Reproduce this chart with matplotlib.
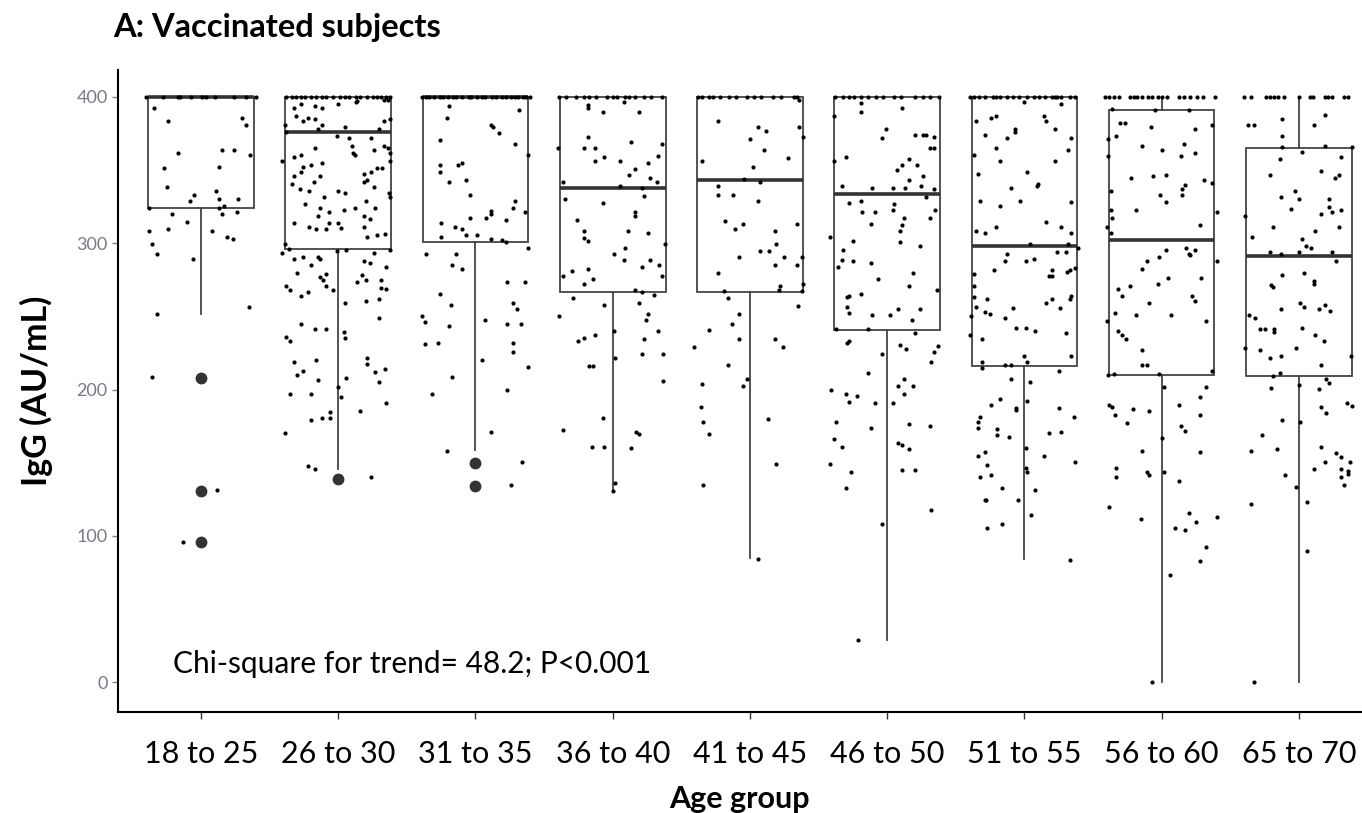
import matplotlib
matplotlib.use("Agg")
import matplotlib.pyplot as plt

groups = ["18 to 25", "26 to 30", "31 to 35", "36 to 40", "41 to 45",
          "46 to 50", "51 to 55", "56 to 60", "65 to 70"]

# box statistics (IgG, AU/mL)
whis_lo = [252, 146, 159, 131, 85, 29, 84, 0, 0]
q1 = [324, 296, 301, 267, 267, 241, 216, 210, 209]
med = [400, 376, 400, 338, 343, 334, 298, 302, 291]
q3 = [400, 400, 400, 400, 400, 400, 400, 391, 365]
whis_hi = [400, 400, 400, 400, 400, 400, 400, 400, 400]
outliers = [[208, 131, 96], [139], [150, 134], [], [], [], [], [], []]

# jittered subjects: (horizontal jitter, IgG)
pts_18_25 = [(-0.40, 400), (-0.28, 400), (-0.17, 400), (-0.15, 400), (-0.07, 400), (0.01, 400),
             (0.04, 400), (0.10, 400), (0.24, 400), (0.33, 400), (0.40, 400),
             (-0.34, 392.5), (-0.24, 383.4), (0.30, 385.9), (0.33, 380.9), (-0.17, 361.5), (0.15, 364.0),
             (0.24, 364.0), (0.36, 360.1), (-0.27, 351.2), (0.13, 352.4), (-0.25, 338.2), (-0.05, 333.0),
             (-0.08, 329.1), (0.11, 335.5), (0.13, 330.3), (0.27, 330.5), (0.17, 325.5), (0.13, 323.9),
             (-0.38, 323.9), (-0.21, 320.0), (0.15, 320.0), (0.26, 321.1), (-0.10, 314.8), (-0.38, 308.4),
             (-0.24, 309.7), (0.08, 308.4), (0.19, 304.3), (0.23, 303.1), (-0.36, 299.3), (-0.32, 292.9),
             (-0.06, 289.0), (0.35, 256.6), (-0.32, 251.4), (-0.36, 208.5), (0.12, 131.3), (-0.13, 95.9)]

pts_26_30 = [(-0.38, 400), (-0.34, 400), (-0.31, 400), (-0.27, 400), (-0.24, 400), (-0.20, 400),
             (-0.16, 400), (-0.12, 400), (-0.09, 400), (-0.04, 400), (0.01, 400), (0.05, 400),
             (0.08, 400), (0.13, 400), (0.16, 400), (0.21, 400), (0.25, 400), (0.28, 400),
             (0.31, 400), (0.35, 400), (0.38, 400), (0.14, 397), (0.33, 398), (0.36, 398),
             (-0.32, 392.5), (-0.27, 395.0), (-0.17, 393.8), (-0.12, 392.5), (0.00, 395.2), (0.13, 396.8),
             (-0.31, 387.2), (-0.26, 383.4), (-0.22, 385.9), (-0.17, 384.7), (-0.12, 380.9), (0.33, 383.4),
             (0.38, 384.7), (-0.39, 380.9), (-0.15, 378.1), (0.05, 379.5), (0.30, 378.1), (-0.38, 376.3),
             (-0.01, 373.3), (0.08, 371.7), (0.24, 371.7), (-0.17, 365.4), (0.10, 366.7), (0.26, 364.0),
             (0.33, 366.7), (0.36, 365.4), (0.11, 361.5), (0.12, 360.3), (0.38, 361.5), (-0.32, 359.0),
             (-0.27, 360.1), (-0.41, 356.2), (-0.26, 352.4), (-0.20, 353.7), (-0.12, 355.1), (0.38, 356.2),
             (0.28, 351.2), (0.24, 348.5), (0.32, 351.2), (-0.27, 348.5), (-0.32, 346.0), (-0.13, 346.0),
             (0.19, 347.1), (-0.18, 342.1), (-0.34, 340.7), (0.19, 342.1), (0.21, 343.2), (-0.28, 336.9),
             (-0.21, 335.5), (0.00, 335.5), (0.05, 334.4), (0.26, 338.2), (0.37, 334.4), (-0.10, 331.6),
             (0.38, 331.6), (-0.24, 326.6), (0.20, 329.1), (-0.13, 323.9), (-0.07, 321.4), (-0.15, 318.9),
             (0.04, 322.7), (0.12, 323.9), (0.27, 323.9), (0.19, 318.9), (0.23, 316.4), (-0.32, 313.6),
             (-0.21, 311.1), (-0.16, 309.7), (-0.09, 309.7), (-0.07, 313.6), (0.00, 313.6), (0.02, 310.2),
             (0.19, 311.1), (0.21, 304.5), (0.28, 305.6), (0.34, 306.1), (-0.39, 299.3), (-0.41, 293.1),
             (-0.36, 296.1), (-0.01, 294.7), (0.06, 295.6), (0.38, 295.4), (-0.32, 289.2), (-0.26, 290.4),
             (-0.20, 285.1), (-0.15, 290.4), (-0.13, 289.2), (0.19, 287.9), (0.23, 286.3), (0.35, 284.0),
             (0.26, 293.1), (-0.30, 279.9), (-0.13, 277.2), (-0.09, 278.8), (-0.11, 274.9), (0.17, 278.3),
             (0.20, 274.9), (0.14, 273.3), (0.31, 274.9), (0.35, 268.7), (0.31, 269.6), (-0.38, 271.0),
             (-0.35, 268.3), (-0.27, 264.2), (-0.22, 266.9), (-0.09, 271.0), (-0.04, 268.3), (0.05, 258.9),
             (0.20, 260.5), (0.30, 261.7), (0.30, 248.7), (-0.27, 245.0), (-0.17, 241.1), (-0.09, 241.1),
             (0.04, 239.5), (0.05, 235.4), (-0.38, 236.1), (-0.35, 233.2), (-0.32, 219.0), (-0.16, 220.2),
             (0.21, 221.3), (0.21, 217.7), (0.34, 214.0), (0.27, 211.8), (-0.26, 212.7), (-0.30, 209.9),
             (-0.15, 206.3), (0.06, 207.6), (0.30, 204.9), (0.00, 201.9), (-0.35, 197.2), (-0.20, 197.2),
             (0.02, 194.9), (0.35, 191.0), (-0.06, 184.4), (-0.06, 180.3), (-0.12, 180.3), (-0.20, 178.9),
             (0.16, 185.3), (-0.39, 170.0), (-0.22, 147.9), (-0.17, 145.4), (0.24, 140.2)]

pts_31_35 = [(-0.39, 400), (-0.36, 400), (-0.34, 400), (-0.30, 400), (-0.26, 400), (-0.24, 400),
             (-0.20, 400), (-0.16, 400), (-0.14, 400), (-0.10, 400), (-0.05, 400), (-0.03, 400),
             (0.01, 400), (0.05, 400), (0.07, 400), (0.12, 400), (0.15, 400), (0.19, 400),
             (0.22, 400), (0.26, 400), (0.29, 400), (0.31, 400), (0.35, 400), (0.37, 400), (0.40, 400),
             (-0.19, 393.8), (0.32, 391.1), (-0.21, 385.9), (0.11, 380.9), (0.13, 379.5), (0.17, 375.6),
             (-0.26, 370.6), (0.29, 367.9), (0.38, 360.1), (-0.26, 353.5), (-0.13, 353.5), (-0.10, 354.9),
             (-0.26, 348.5), (-0.19, 341.9), (-0.07, 343.2), (-0.04, 333.0), (0.29, 329.1), (0.27, 323.9),
             (0.36, 321.4), (0.11, 322.1), (0.11, 320.0), (0.08, 317.5), (-0.04, 317.5), (0.22, 316.1),
             (-0.25, 313.6), (-0.15, 311.1), (-0.10, 309.7), (-0.07, 305.6), (-0.25, 304.5), (0.01, 305.6),
             (0.11, 303.1), (0.19, 302.2), (0.22, 300.6), (0.38, 296.5), (-0.36, 292.9), (-0.14, 292.9),
             (-0.17, 285.1), (-0.10, 282.4), (0.23, 273.3), (0.36, 273.3), (-0.26, 265.5), (-0.18, 257.8),
             (0.27, 258.9), (0.30, 255.0), (-0.39, 250.3), (-0.37, 246.2), (-0.19, 243.7), (0.07, 247.5),
             (0.23, 245.0), (0.33, 245.0), (-0.37, 230.9), (-0.27, 232.0), (0.27, 232.0), (0.27, 225.4),
             (0.05, 220.2), (0.38, 215.2), (-0.17, 208.6), (-0.32, 197.2), (0.23, 199.7), (0.11, 171.2),
             (-0.21, 158.2), (0.34, 150.4), (0.26, 134.9)]

pts_36_40 = [(-0.39, 400), (-0.34, 400), (-0.27, 400), (-0.21, 400), (-0.17, 400), (-0.12, 400),
             (-0.04, 400), (0.00, 400), (0.03, 400), (0.09, 400), (0.12, 400), (0.16, 400),
             (0.23, 400), (0.28, 400), (0.36, 400),
             (-0.18, 394.5), (-0.18, 392.2), (-0.07, 389.8), (0.08, 396.4), (0.19, 389.8), (-0.18, 372.9),
             (0.13, 369.1), (-0.40, 365.1), (-0.21, 365.1), (-0.13, 365.1), (0.36, 367.7), (0.33, 359.9),
             (-0.06, 358.8), (-0.13, 356.2), (0.05, 356.2), (0.26, 355.0), (0.16, 351.0), (0.12, 347.0),
             (0.27, 344.6), (0.32, 342.0), (-0.36, 342.0), (0.05, 339.4), (0.21, 338.0), (0.23, 332.6),
             (-0.35, 330.5), (-0.07, 327.7), (0.16, 321.1), (0.16, 318.7), (-0.26, 316.1), (-0.21, 308.1),
             (-0.21, 303.4), (-0.18, 301.8), (0.11, 308.1), (0.26, 306.9), (0.38, 299.4), (0.09, 296.8),
             (0.01, 292.8), (0.08, 288.8), (0.27, 288.8), (0.21, 283.9), (0.34, 285.3), (-0.30, 281.1),
             (-0.18, 282.2), (-0.36, 277.3), (0.36, 277.3), (-0.14, 275.9), (-0.21, 272.1), (0.16, 268.1),
             (0.21, 266.9), (0.30, 264.6), (-0.29, 262.9), (-0.06, 258.0), (0.19, 259.2), (-0.39, 250.0),
             (0.26, 251.6), (0.24, 247.4), (0.01, 239.8), (0.33, 239.8), (-0.25, 233.3), (-0.21, 235.6),
             (-0.13, 237.0), (0.23, 234.4), (0.02, 221.5), (0.21, 224.1), (0.37, 224.1), (-0.17, 216.3),
             (-0.14, 216.3), (0.37, 206.2), (-0.07, 180.3), (-0.36, 172.7), (0.17, 171.3), (0.19, 169.9),
             (-0.15, 161.0), (-0.06, 161.0), (0.13, 159.8), (0.02, 136.2), (0.00, 130.8)]

pts_41_45 = [(-0.38, 400), (-0.35, 400), (-0.30, 400), (-0.27, 400), (-0.22, 400), (-0.15, 400),
             (-0.10, 400), (-0.02, 400), (0.03, 400), (0.08, 400), (0.17, 400), (0.23, 400),
             (0.32, 400), (0.34, 400), (0.36, 398),
             (-0.23, 383.8), (0.06, 379.4), (0.12, 376.9), (0.00, 371.6), (0.36, 379.4), (0.39, 372.8),
             (0.10, 363.8), (-0.35, 356.4), (0.28, 358.6), (0.02, 352.0), (-0.04, 344.2), (0.07, 341.8),
             (-0.23, 339.3), (-0.23, 333.0), (-0.12, 333.0), (0.06, 329.1), (-0.18, 314.9), (-0.05, 313.4),
             (-0.11, 309.5), (0.18, 308.6), (0.34, 313.4), (0.19, 299.3), (0.07, 294.4), (0.14, 294.4),
             (-0.08, 290.3), (0.25, 290.3), (0.38, 290.3), (0.18, 284.9), (0.34, 284.9), (-0.23, 280.0),
             (0.39, 272.2), (0.22, 270.9), (0.21, 267.8), (-0.19, 267.3), (0.38, 267.1), (-0.16, 262.9),
             (0.35, 256.8), (-0.08, 251.4), (-0.13, 245.1), (-0.30, 240.9), (-0.08, 234.3), (0.18, 234.3),
             (-0.41, 229.4), (0.24, 229.4), (-0.16, 216.5), (-0.02, 207.5), (-0.05, 202.3), (-0.35, 203.6),
             (-0.36, 187.9), (0.13, 180.1), (-0.34, 177.7), (-0.30, 169.9), (0.19, 149.4), (-0.34, 134.7),
             (0.06, 84.4)]

pts_46_50 = [(-0.38, 400), (-0.32, 400), (-0.28, 400), (-0.24, 400), (-0.19, 400), (-0.14, 400),
             (-0.08, 400), (-0.03, 400), (0.05, 400), (0.10, 400), (0.20, 400), (0.26, 400),
             (0.31, 400), (0.38, 400),
             (-0.19, 395.6), (-0.19, 389.9), (0.11, 392.5), (-0.39, 387.3), (-0.01, 378.1), (-0.04, 372.1),
             (0.20, 374.2), (0.26, 374.2), (0.28, 374.2), (0.34, 372.9), (0.31, 365.0), (0.34, 365.0),
             (-0.30, 359.0), (-0.39, 356.4), (0.16, 357.7), (0.11, 353.8), (0.22, 353.8), (0.07, 349.9),
             (0.26, 345.9), (0.16, 343.3), (-0.33, 339.4), (-0.11, 338.1), (0.04, 338.1), (0.13, 338.1),
             (0.25, 339.4), (0.34, 336.8), (0.28, 331.5), (-0.28, 327.6), (-0.19, 329.2), (0.05, 326.6),
             (0.35, 322.6), (-0.18, 321.3), (-0.09, 321.3), (0.04, 322.6), (0.12, 317.4), (0.31, 317.4),
             (-0.12, 313.5), (0.11, 312.2), (0.09, 308.2), (-0.42, 304.3), (-0.25, 301.7), (0.09, 300.7),
             (0.24, 298.0), (-0.32, 295.2), (-0.33, 288.9), (-0.25, 287.6), (-0.12, 286.3), (-0.36, 283.6),
             (0.19, 279.7), (-0.07, 275.8), (0.16, 270.8), (0.36, 268.2), (-0.28, 264.3), (-0.29, 263.0),
             (-0.19, 265.6), (-0.29, 256.4), (-0.28, 252.5), (-0.11, 251.2), (0.02, 251.2), (0.08, 255.1),
             (0.24, 255.1), (0.18, 247.3), (-0.37, 241.3), (-0.14, 241.3), (0.20, 238.6), (-0.28, 232.9),
             (-0.29, 232.1), (-0.04, 224.3), (0.09, 230.8), (0.14, 227.7), (0.37, 229.5), (0.34, 225.6),
             (0.32, 219.0), (-0.14, 211.4), (0.12, 207.5), (0.08, 202.3), (0.19, 202.3), (-0.41, 199.7),
             (-0.30, 197.0), (-0.22, 195.7), (-0.28, 191.8), (-0.09, 190.8), (0.04, 190.8), (0.12, 197.0),
             (-0.37, 177.7), (-0.12, 173.8), (0.16, 176.4), (0.31, 175.1), (-0.39, 165.9), (-0.33, 160.9),
             (0.08, 163.3), (0.11, 162.2), (0.16, 159.6), (-0.42, 149.2), (-0.26, 143.9), (0.11, 145.2),
             (0.20, 145.2), (-0.30, 132.4), (0.32, 118.0), (-0.04, 107.8), (-0.21, 28.8)]

pts_51_55 = [(-0.40, 400), (-0.37, 400), (-0.33, 400), (-0.29, 400), (-0.23, 400), (-0.21, 400),
             (-0.18, 400), (-0.13, 400), (-0.08, 400), (-0.04, 400), (0.02, 400), (0.07, 400),
             (0.11, 400), (0.15, 400), (0.20, 400), (0.22, 400), (0.24, 400), (0.27, 400),
             (0.33, 400), (0.37, 400),
             (0.00, 396.3), (0.27, 395.0), (-0.35, 383.6), (-0.24, 385.9), (-0.21, 387.2), (0.14, 387.2),
             (0.16, 383.6), (-0.07, 378.1), (-0.07, 376.3), (0.22, 378.1), (-0.29, 374.2), (-0.13, 371.7),
             (0.34, 371.7), (-0.21, 365.4), (0.32, 364.0), (-0.37, 360.1), (-0.18, 356.2), (0.22, 356.2),
             (-0.34, 347.1), (0.02, 348.5), (0.10, 340.7), (0.09, 339.4), (-0.10, 338.0), (-0.32, 329.1),
             (-0.03, 329.1), (0.34, 328.0), (-0.18, 325.2), (0.16, 314.8), (-0.35, 308.6), (-0.29, 307.2),
             (-0.21, 311.1), (0.27, 311.1), (0.34, 307.2), (0.04, 299.3), (0.32, 299.3), (0.39, 297.0),
             (0.24, 294.2), (0.30, 294.2), (-0.13, 292.9), (-0.14, 287.9), (0.01, 287.9), (0.07, 289.2),
             (-0.22, 281.5), (0.20, 281.5), (0.18, 277.4), (0.20, 277.4), (0.31, 280.1), (0.33, 281.5),
             (0.37, 282.9), (-0.37, 278.8), (-0.37, 271.0), (-0.37, 263.5), (-0.27, 261.9), (0.34, 264.2),
             (0.33, 261.9), (0.20, 261.9), (0.16, 259.2), (-0.35, 256.6), (-0.08, 255.5), (0.26, 255.5),
             (-0.39, 250.5), (-0.29, 252.8), (-0.25, 251.4), (-0.14, 248.7), (-0.06, 242.3), (0.01, 242.3),
             (0.08, 240.0), (0.30, 238.4), (-0.40, 237.3), (-0.31, 234.5), (0.00, 223.1), (0.02, 219.0),
             (0.34, 223.1), (-0.31, 219.0), (-0.31, 214.9), (-0.14, 216.8), (-0.10, 216.8), (0.25, 212.7),
             (-0.10, 207.2), (0.04, 204.9), (0.02, 192.2), (-0.18, 193.5), (-0.24, 189.4), (-0.06, 187.6),
             (-0.06, 185.8), (0.25, 187.1), (0.36, 181.4), (-0.32, 181.4), (-0.34, 177.6), (-0.34, 173.9),
             (-0.20, 172.8), (-0.20, 168.9), (-0.11, 167.5), (0.18, 170.0), (0.27, 171.2), (0.01, 159.8),
             (-0.34, 154.5), (-0.29, 157.1), (-0.27, 148.4), (0.14, 154.5), (0.37, 150.7), (0.01, 146.1),
             (0.02, 143.8), (-0.32, 140.2), (-0.24, 141.5), (-0.16, 132.4), (0.08, 131.1), (-0.29, 124.7),
             (-0.28, 124.7), (-0.05, 124.7), (0.05, 114.2), (-0.27, 105.1), (-0.16, 107.8), (0.33, 83.4)]

pts_56_60 = [(-0.41, 400), (-0.38, 400), (-0.35, 400), (-0.31, 400), (-0.23, 400), (-0.20, 400),
             (-0.18, 400), (-0.14, 400), (-0.10, 400), (-0.07, 400), (-0.03, 400), (0.00, 400),
             (0.04, 400), (0.13, 400), (0.16, 400), (0.21, 400), (0.26, 400), (0.30, 400), (0.39, 400),
             (-0.36, 391.7), (-0.05, 390.9), (0.20, 390.9), (-0.30, 382.1), (-0.27, 382.1), (0.37, 381.1),
             (-0.08, 379.5), (0.24, 378.1), (-0.33, 373.1), (-0.39, 371.5), (-0.14, 366.4), (0.16, 367.8),
             (0.00, 364.0), (0.14, 360.0), (0.24, 361.4), (-0.39, 360.0), (-0.22, 344.3), (-0.06, 345.7),
             (0.03, 347.0), (0.31, 343.5), (0.37, 340.9), (0.17, 339.6), (0.15, 336.9), (-0.37, 335.8),
             (-0.01, 332.9), (0.15, 332.9), (0.03, 327.9), (-0.19, 322.5), (-0.37, 322.5), (0.40, 321.5),
             (-0.36, 317.2), (-0.40, 311.1), (-0.37, 307.1), (0.28, 312.4), (0.03, 295.1), (0.18, 297.0),
             (0.20, 292.5), (0.21, 291.7), (0.24, 295.1), (-0.02, 290.3), (-0.11, 287.7), (0.40, 287.7),
             (-0.14, 282.6), (0.05, 276.0), (0.29, 276.0), (-0.03, 272.0), (-0.23, 270.7), (-0.32, 268.5),
             (-0.29, 264.3), (0.22, 264.3), (0.24, 260.3), (-0.09, 259.2), (-0.34, 252.6), (-0.19, 251.2),
             (0.07, 251.2), (-0.40, 246.7), (0.32, 246.7), (-0.32, 240.1), (-0.29, 237.4), (-0.26, 234.5),
             (-0.14, 226.8), (-0.14, 216.6), (-0.11, 216.6), (-0.39, 210.0), (-0.35, 210.8), (-0.02, 210.8),
             (0.37, 212.7), (0.02, 202.0), (0.32, 202.0), (0.28, 194.6), (-0.38, 189.5), (-0.36, 187.9),
             (-0.34, 182.6), (-0.21, 186.9), (-0.09, 185.3), (0.13, 189.5), (0.28, 182.6), (-0.25, 177.5),
             (0.14, 175.1), (0.17, 171.4), (0.00, 167.2), (-0.14, 158.1), (0.28, 157.1), (-0.33, 146.7),
             (-0.33, 140.3), (-0.11, 144.0), (-0.09, 141.4), (0.02, 144.0), (0.13, 137.6), (-0.38, 119.5),
             (-0.15, 111.8), (0.20, 115.6), (0.25, 109.2), (0.40, 112.9), (0.10, 105.4), (0.17, 104.1),
             (0.32, 92.1), (0.28, 83.1), (0.06, 73.0), (-0.07, 0.0)]

pts_65_70 = [(-0.40, 400), (-0.35, 400), (-0.24, 400), (-0.21, 400), (-0.18, 400), (-0.15, 400),
             (-0.11, 400), (0.00, 400), (0.08, 400), (0.10, 400), (0.19, 400), (0.21, 400),
             (0.24, 400), (0.33, 400), (0.36, 400),
             (-0.37, 381.1), (-0.33, 381.1), (-0.12, 384.8), (0.11, 381.1), (0.19, 387.4), (-0.12, 373.1),
             (-0.12, 365.6), (0.02, 362.4), (0.19, 366.2), (0.39, 365.6), (-0.14, 357.7), (0.31, 359.0),
             (-0.21, 347.0), (0.16, 349.7), (0.26, 344.3), (0.29, 347.0), (-0.03, 335.6), (-0.13, 331.6),
             (0.00, 330.3), (0.22, 330.5), (0.22, 324.9), (-0.06, 323.6), (0.16, 319.9), (0.24, 321.2),
             (0.31, 322.5), (-0.39, 318.5), (-0.19, 310.8), (0.29, 310.8), (0.12, 308.2), (-0.34, 304.4),
             (0.02, 303.1), (0.05, 298.3), (0.09, 297.0), (-0.21, 293.8), (-0.13, 292.5), (0.00, 293.8),
             (0.24, 293.8), (0.27, 288.0), (-0.12, 278.4), (0.04, 279.7), (-0.20, 271.7), (-0.19, 270.4),
             (0.11, 274.4), (0.11, 272.0), (0.01, 259.2), (0.04, 256.6), (-0.13, 255.2), (0.15, 254.9),
             (0.19, 257.9), (0.23, 253.9), (-0.36, 251.2), (-0.32, 248.6), (-0.28, 241.1), (-0.25, 241.1),
             (-0.18, 241.1), (-0.18, 239.5), (0.02, 242.2), (0.12, 237.4), (0.18, 233.4), (-0.39, 228.1),
             (-0.28, 226.8), (-0.02, 228.1), (-0.21, 221.4), (-0.13, 223.0), (0.16, 216.6), (0.38, 223.3),
             (-0.19, 209.2), (-0.14, 211.3), (0.20, 207.3), (0.22, 204.7), (0.00, 203.4), (-0.20, 201.2),
             (0.15, 200.7), (0.35, 190.6), (0.39, 189.0), (0.16, 187.9), (0.20, 183.9), (-0.12, 178.9),
             (0.01, 177.8), (-0.27, 168.8), (-0.35, 158.1), (-0.16, 159.5), (0.16, 160.8), (0.27, 156.8),
             (0.31, 154.1), (0.37, 150.7), (0.19, 150.7), (0.31, 145.4), (0.36, 144.3), (0.36, 142.2),
             (0.31, 140.3), (0.33, 134.7), (0.11, 145.4), (-0.10, 141.4), (-0.02, 133.6), (-0.35, 121.9),
             (0.06, 123.5), (0.06, 89.5), (-0.33, 0.0)]

points = [pts_18_25, pts_26_30, pts_31_35, pts_36_40, pts_41_45,
          pts_46_50, pts_51_55, pts_56_60, pts_65_70]

plt.rcParams["font.family"] = ["Lato", "DejaVu Sans"]
fig = plt.figure(figsize=(13.62, 8.13), dpi=100)
ax = fig.add_axes([0.0866, 0.124, 0.9134, 0.79])

stats = []
for i in range(len(groups)):
    stats.append({"whislo": whis_lo[i], "q1": q1[i], "med": med[i], "q3": q3[i],
                  "whishi": whis_hi[i], "fliers": outliers[i], "label": groups[i]})

ax.bxp(stats, positions=range(len(groups)), widths=0.77, showcaps=False,
       patch_artist=True,
       boxprops=dict(facecolor="white", edgecolor="#444444", linewidth=1.3),
       whiskerprops=dict(color="#444444", linewidth=1.3),
       medianprops=dict(color="#333333", linewidth=2.6),
       flierprops=dict(marker="o", markerfacecolor="#333333", markeredgecolor="#333333",
                       markersize=7.5))

for i, pts in enumerate(points):
    xs = [i + d for d, v in pts]
    ys = [v for d, v in pts]
    ax.scatter(xs, ys, s=9, c="black", linewidths=0, zorder=3)

ax.set_xlim(-0.605, 8.46)
ax.set_ylim(-20.5, 418.5)
ax.set_yticks([0, 100, 200, 300, 400])
ax.tick_params(axis="y", labelsize=13, length=4, width=1, color="#808080")
ax.tick_params(axis="x", labelsize=22, length=5, width=1, color="#333333", pad=15)
for lab in ax.get_xticklabels():
    lab.set_color("black")
for lab in ax.get_yticklabels():
    lab.set_color("#7a7a88")

ax.spines["top"].set_visible(False)
ax.spines["right"].set_visible(False)
ax.spines["left"].set_linewidth(1.5)
ax.spines["bottom"].set_linewidth(1.5)

ax.set_xlabel("Age group", fontsize=22, fontweight="bold", labelpad=12)
ax.set_ylabel("IgG (AU/mL)", fontsize=24.5, fontweight="bold", labelpad=17)
ax.text(-0.204, 12.3, "Chi-square for trend= 48.2; P<0.001", fontsize=21.5, va="center")
fig.text(0.083, 0.966, "A: Vaccinated subjects", fontsize=23.5, fontweight="bold", va="center")

fig.savefig("out.png", dpi=100)
